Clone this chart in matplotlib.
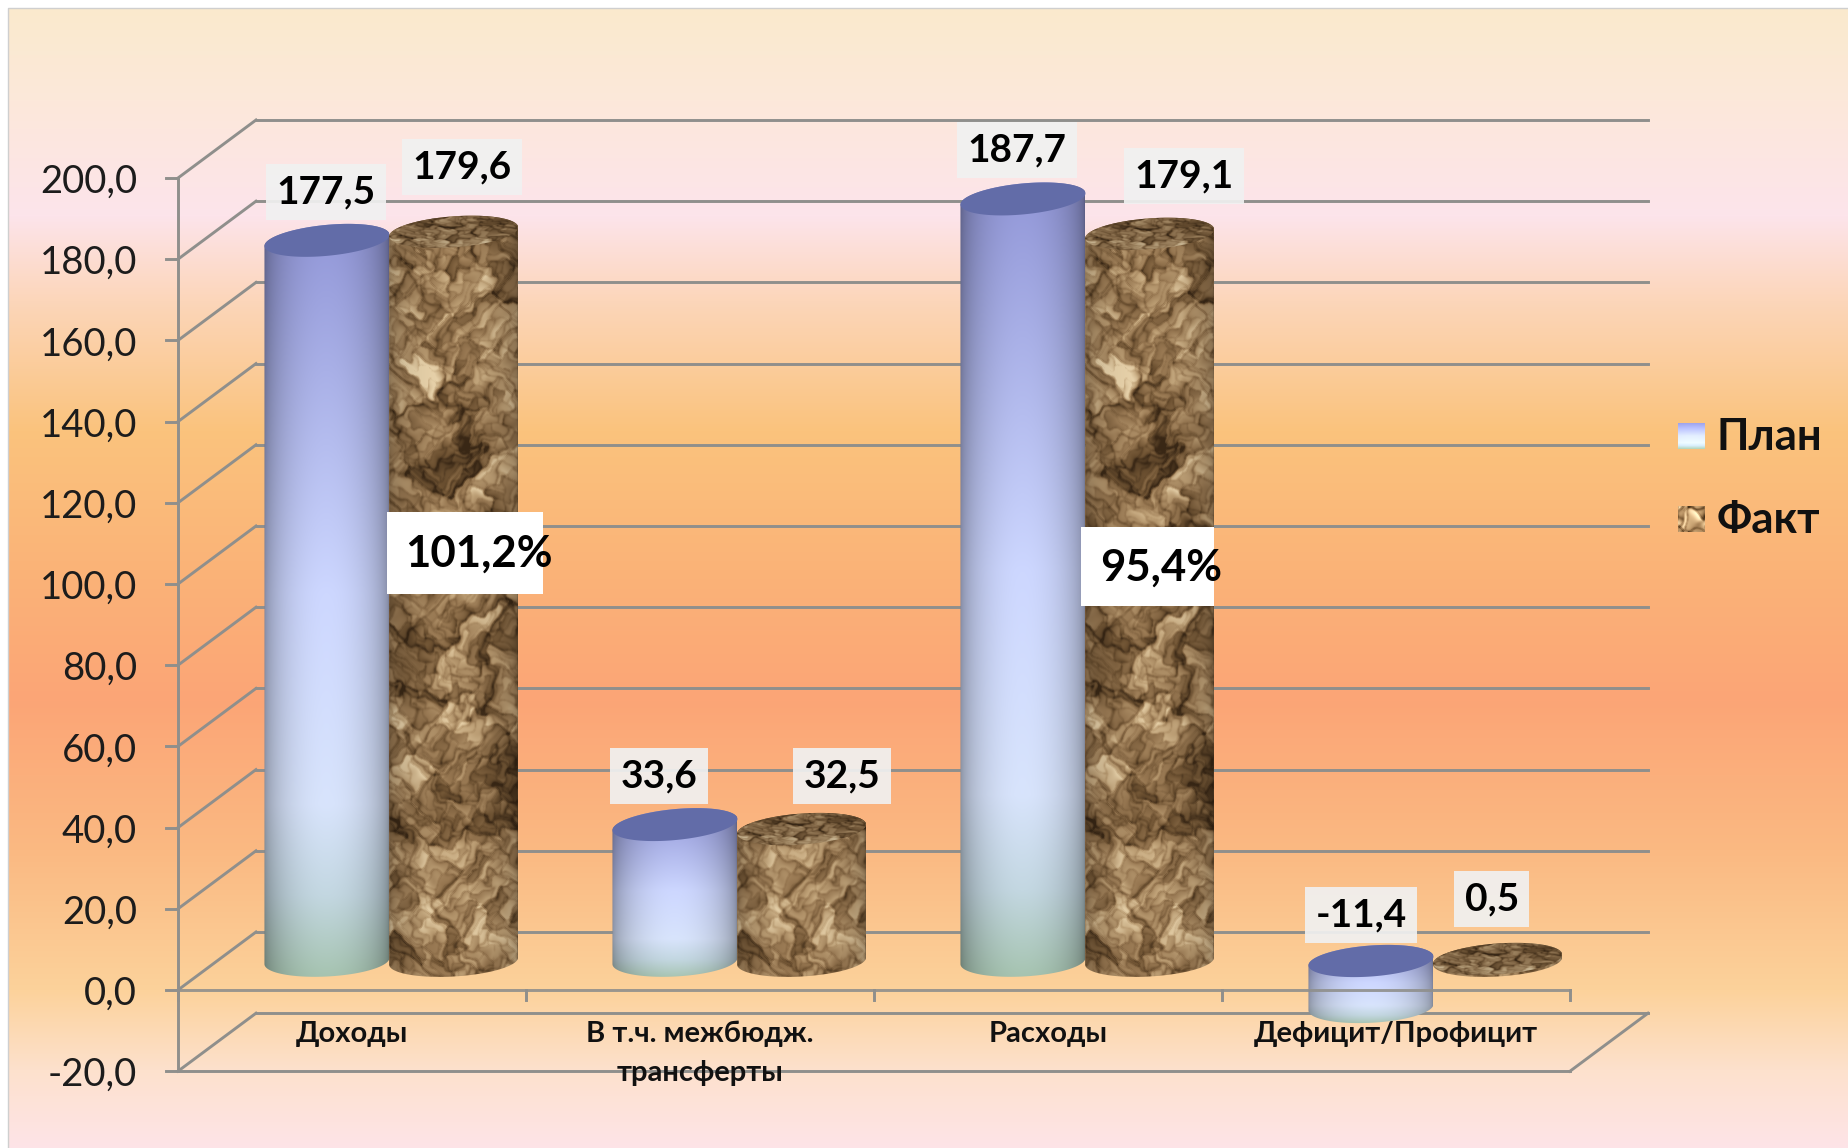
import numpy as np
import matplotlib
matplotlib.use('Agg')
import matplotlib.pyplot as plt
from matplotlib.patches import Polygon, Rectangle

# data
categories = ['Доходы', 'В т.ч. межбюдж.\nтрансферты', 'Расходы', 'Дефицит/Профицит']
plan = [177.5, 33.6, 187.7, -11.4]
fact = [179.6, 32.5, 179.1, 0.5]
plan_labels = ['177,5', '33,6', '187,7', '-11,4']
fact_labels = ['179,6', '32,5', '179,1', '0,5']
percent_labels = ['101,2%', '95,4%']
y_ticks = [-20, 0, 20, 40, 60, 80, 100, 120, 140, 160, 180, 200]
y_tick_labels = ['-20,0', '0,0', '20,0', '40,0', '60,0', '80,0', '100,0', '120,0',
                 '140,0', '160,0', '180,0', '200,0']
series_names = ['План', 'Факт']

# layout, in pixels of the 1849x1148 figure
W, H = 1849, 1148
AX_X0, CAT_W = 178, 348.0
AX_Y0, UNIT = 990, 4.06
DEPTH_X, DEPTH_Y = 78, 58
plt.rcParams['font.family'] = ['Lato', 'Open Sans', 'DejaVu Sans']

def sx(px):
    return px / CAT_W

def sy(px):
    return px / UNIT

def dx(px):
    return (px - AX_X0) / CAT_W

def dy(px):
    return (AX_Y0 - px) / UNIT

GRID = '#8f8f8c'
OFF_PLAN, OFF_FACT = 0.316, 0.68
HALF_PLAN, HALF_FACT = 62.5, 64.5
ELL_B = 15.5

def fract_hash(i, j, salt):
    v = np.sin(i * 12.9898 + j * 78.233 + salt * 37.719) * 43758.5453
    return v - np.floor(v)

def crumple(w, h, zoom=1.0):
    # crumpled paper: wavy facets with dark creases
    yy, xx = np.mgrid[0:h, 0:w].astype(float)
    yy = yy / zoom
    xx = xx / zoom
    X = xx + 11 * np.sin(yy / 23 + 1) + 5 * np.sin(yy / 9 + xx / 14) + 2 * np.sin(yy / 3.1 + xx / 4.3)
    Y = yy + 11 * np.sin(xx / 19 + 2) + 5 * np.sin(xx / 8 - yy / 11) + 2 * np.sin(xx / 2.9 - yy / 5.1)
    val = np.zeros_like(xx)
    for spacing, weight, salt in ((70, 0.7, 1), (28, 0.6, 2), (11, 0.45, 3)):
        d1 = np.full(xx.shape, 1e9)
        d2 = np.full(xx.shape, 1e9)
        base = np.zeros_like(xx)
        for i in range(-2, int(w / zoom / spacing) + 3):
            for j in range(-2, int(h / zoom / spacing) + 3):
                px = (i + fract_hash(i, j, salt)) * spacing
                py = (j + fract_hash(i, j, salt + 5)) * spacing
                d = np.hypot(X - px, Y - py)
                near = d < d1
                d2 = np.where(near, d1, np.minimum(d2, d))
                d1 = np.where(near, d, d1)
                s0 = fract_hash(i, j, salt + 9) - 0.5
                gx = fract_hash(i, j, salt + 13) - 0.5
                gy = fract_hash(i, j, salt + 17) - 0.5
                plane = s0 + 1.6 * (gx * (X - px) + gy * (Y - py)) / spacing
                base = np.where(near, plane, base)
        crease = np.exp(-(d2 - d1) / (spacing * 0.035 + 0.6))
        val += weight * (base - 0.9 * crease)
    val = (val + np.roll(val, 1, 0) + np.roll(val, -1, 0) + np.roll(val, 1, 1) + np.roll(val, -1, 1)) / 5
    lo, hi = np.percentile(val, [0.5, 99.7])
    shade = np.clip((val - lo) / (hi - lo), 0, 1)
    stops = [0, 0.3, 0.55, 0.78, 1]
    cols = np.array([[58, 40, 22], [110, 82, 50], [152, 120, 82], [190, 160, 118], [232, 210, 170]]) / 255
    return np.dstack([np.interp(shade, stops, cols[:, i]) for i in range(3)])

def plan_side(height_px):
    rows = max(int(height_px), 8)
    f = np.linspace(0, 1, rows)
    stops = [0, 0.49, 0.77, 0.89, 1]
    cols = np.array([[145, 150, 215], [205, 215, 255], [216, 228, 252], [195, 215, 225], [165, 195, 175]]) / 255
    u = np.linspace(0, 1, 128)
    light = 0.62 + 0.38 * (1 - (2 * u - 1) ** 2) ** 0.6
    return np.dstack([np.interp(f, stops, cols[:, i])[:, None] * light[None, :] for i in range(3)])

def ellipse_pts(cx, cy, half, tilt, t):
    # cx, cy in data units, half and ellipse height in pixels
    x = cx + sx(half) * np.cos(t)
    y = cy + sy(ELL_B * np.sin(t) + tilt * half * np.cos(t))
    return x, y

def cylinder(ax, cx, v, half, tilt_top, tilt_bot, side_img, cap, z):
    base = DEPTH_Y / 2 / UNIT
    top = max(v, 0) + base
    bot = min(v, 0) + base
    t_bot = np.linspace(np.pi, 2 * np.pi, 60)
    t_top = np.linspace(0, np.pi, 60)
    xb, yb = ellipse_pts(cx, bot, half, tilt_bot, t_bot)
    xt, yt = ellipse_pts(cx, top, half, tilt_top, t_top)
    path = np.column_stack([np.r_[xb, xt], np.r_[yb, yt]])
    im = ax.imshow(side_img, extent=[cx - sx(half), cx + sx(half), bot - sy(18), top + sy(18)],
                   aspect='auto', origin='upper', zorder=z, interpolation='bilinear')
    im.set_clip_path(Polygon(path, closed=True, transform=ax.transData))
    # top cap
    t = np.linspace(0, 2 * np.pi, 120)
    xc, yc = ellipse_pts(cx, top, half, tilt_top, t)
    if isinstance(cap, str):
        ax.fill(xc, yc, color=cap, zorder=z + 0.1, lw=0)
    else:
        cim = ax.imshow(cap, extent=[cx - sx(half), cx + sx(half), top - sy(20), top + sy(20)],
                        aspect='auto', origin='upper', zorder=z + 0.1, interpolation='bilinear')
        cim.set_clip_path(Polygon(np.column_stack([xc, yc]), closed=True, transform=ax.transData))

fig = plt.figure(figsize=(W / 100, H / 100), dpi=100, facecolor='white')
ax = fig.add_axes([0, 0, 1, 1])
ax.set_axis_off()

# background
bg_y = [9, 100, 215, 300, 430, 560, 700, 850, 990, 1070, 1148]
bg_c = np.array([[250, 234, 205], [252, 232, 218], [253, 228, 235], [252, 214, 186], [250, 195, 125],
                 [250, 180, 120], [252, 165, 118], [250, 185, 130], [252, 210, 155], [253, 225, 205],
                 [253, 228, 232]]) / 255
ys = np.arange(9, H)
bg = np.dstack([np.interp(ys, bg_y, bg_c[:, i])[:, None] for i in range(3)])
ax.imshow(bg, extent=[dx(9), dx(W), dy(H), dy(9)], aspect='auto', zorder=0)
ax.plot([dx(8), dx(8), dx(W)], [dy(H), dy(8), dy(8)], color='#cfcfcf', lw=1, zorder=0.5)

# walls
lw = 2.1
for v in y_ticks:
    ax.plot([dx(166), 0], [v, v], color=GRID, lw=lw, zorder=1)
    ax.plot([0, sx(DEPTH_X)], [v, v + sy(DEPTH_Y)], color=GRID, lw=lw, zorder=1)
    ax.plot([sx(DEPTH_X), len(categories) + sx(DEPTH_X)], [v + sy(DEPTH_Y)] * 2, color=GRID, lw=lw, zorder=1)
ax.plot([0, 0], [y_ticks[0], y_ticks[-1]], color=GRID, lw=lw, zorder=1)
# floor at the bottom of the scale
ax.plot([0, len(categories)], [y_ticks[0]] * 2, color=GRID, lw=lw, zorder=1)
ax.plot([len(categories), len(categories) + sx(DEPTH_X)], [y_ticks[0], y_ticks[0] + sy(DEPTH_Y)],
        color=GRID, lw=lw, zorder=1)
# category axis at zero, drawn above the bars
ax.plot([0, len(categories)], [0, 0], color=GRID, lw=lw, zorder=8, alpha=0.9)
for i in range(len(categories) + 1):
    ax.plot([i, i], [0, -sy(10)], color=GRID, lw=lw, zorder=8)

for v, s in zip(y_ticks, y_tick_labels):
    ax.text(dx(137), v - sy(4), s, ha='right', va='center', fontsize=27.5, color='#1c1c1c', zorder=9)

# cylinders
tex = crumple(129, 790)
cap_tex = crumple(129, 120) * 0.85
tilt_top_plan = [0.09, 0.09, 0.09, 0.07]
for i in range(len(categories)):
    cx_p = i + OFF_PLAN + sx(DEPTH_X / 2)
    cx_f = i + OFF_FACT + sx(DEPTH_X / 2)
    cylinder(ax, cx_p, plan[i], HALF_PLAN, tilt_top_plan[i], 0.05, plan_side(abs(plan[i]) * UNIT),
             '#626ca8', 3 + i)
    h_rows = int(abs(fact[i]) * UNIT + 36)
    u = np.linspace(0, 1, tex.shape[1])
    edge = 0.72 + 0.28 * (1 - (2 * u - 1) ** 2) ** 0.4
    side = tex[-h_rows:] * edge[None, :, None]
    cylinder(ax, cx_f, fact[i], HALF_FACT, 0.07, 0.055, side, cap_tex, 3.5 + i)

# value labels, offsets in pixels from the top of each cylinder
plan_off = [(-1, 48), (-16, 49), (-6, 49), (-10, 46)]
fact_off = [(8, 65), (40, 53), (34, 58), (-6, 60)]
box = dict(boxstyle='square,pad=0.27', fc='#f1f1f1', ec='none', alpha=0.92)
for i in range(len(categories)):
    base = DEPTH_Y / 2 / UNIT
    ax.annotate(plan_labels[i], (i + OFF_PLAN + sx(DEPTH_X / 2), max(plan[i], 0) + base),
                xytext=plan_off[i], textcoords='offset pixels', ha='center', va='center',
                fontsize=28, fontweight='bold', color='black', bbox=box, zorder=10)
    ax.annotate(fact_labels[i], (i + OFF_FACT + sx(DEPTH_X / 2), max(fact[i], 0) + base),
                xytext=fact_off[i], textcoords='offset pixels', ha='center', va='center',
                fontsize=28, fontweight='bold', color='black', bbox=box, zorder=10)

# percent labels sit on the fact cylinders of the first and third groups
pct_boxes = [(387, 512, 543, 594), (1081, 527, 1214, 606)]
pct_text = [(479, 554), (1161, 568)]
for s, (x0, y0, x1, y1), (tx, ty) in zip(percent_labels, pct_boxes, pct_text):
    ax.add_patch(Rectangle((dx(x0), dy(y1)), sx(x1 - x0), sy(y1 - y0), fc='white', ec='none', zorder=9.5))
    ax.text(dx(tx), dy(ty), s, ha='center', va='center', fontsize=31.5, fontweight='bold',
            color='black', zorder=10)

# category labels
for i, s in enumerate(categories):
    ax.text(i + 0.5, dy(1021), s, ha='center', va='top', fontsize=21, fontweight='bold',
            color='#111111', linespacing=1.6, zorder=9)

# legend
swatch_y = [436, 519]
leg_plan = np.clip(plan_side(26)[:, 50:77] / 0.9, 0, 1)
leg_fact = np.clip(crumple(27, 27, zoom=1.3) * 1.2, 0, 1)
for y, img, name in zip(swatch_y, [leg_plan, leg_fact], series_names):
    ax.imshow(img, extent=[dx(1678), dx(1705), dy(y + 13), dy(y - 13)], aspect='auto', zorder=9)
    ax.text(dx(1717), dy(y + 1), name, ha='left', va='center', fontsize=31.5, fontweight='bold',
            color='#111111', zorder=9)

ax.set_xlim(dx(0), dx(W))
ax.set_ylim(dy(H), dy(0))
fig.savefig('out.png', dpi=100)
